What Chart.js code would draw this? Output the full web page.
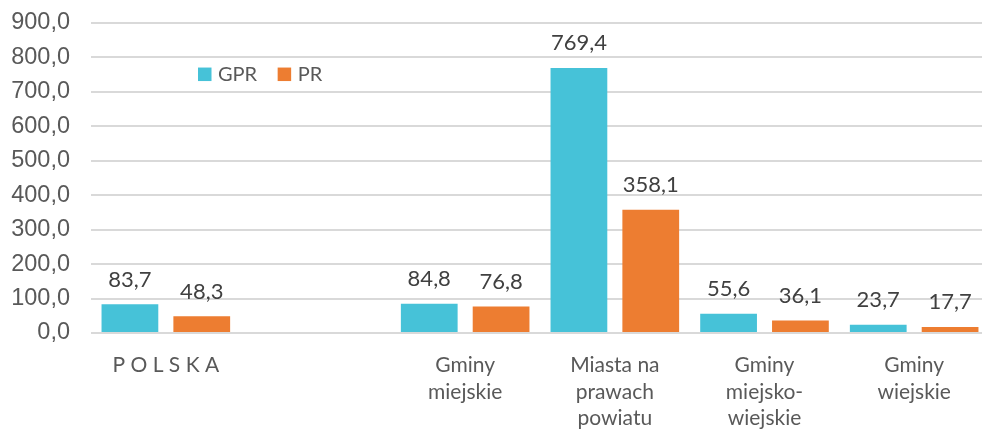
<!DOCTYPE html>
<html><head><meta charset="utf-8">
<script src="https://cdn.jsdelivr.net/npm/chart.js@4.4.1/dist/chart.umd.min.js"></script>
<style>
html,body{margin:0;padding:0;overflow:hidden;background:#fff;width:982px;height:431px}
#wrap{position:absolute;left:0;top:0;width:990px;height:431px}
</style></head>
<body><div id="wrap"><canvas id="c"></canvas></div>
<script>
// ---- data ----
const categories = [['P O L S K A'], [''], ['Gminy', 'miejskie'], ['Miasta na', 'prawach', 'powiatu'], ['Gminy', 'miejsko-', 'wiejskie'], ['Gminy', 'wiejskie']];
const seriesNames = ['GPR', 'PR'];
const gprValues = [83.7, null, 84.8, 769.4, 55.6, 23.7];
const prValues = [48.3, null, 76.8, 358.1, 36.1, 17.7];
const yMin = 0, yMax = 900, yStep = 100;
const seriesColors = ['#46C2D8', '#ED7D31'];

const fmt = v => v.toFixed(1).replace('.', ',');

const valueLabels = {
  id: 'valueLabels',
  afterDatasetsDraw(chart) {
    const ctx = chart.ctx;
    ctx.save();
    ctx.font = '22px Lato';
    ctx.fillStyle = '#404040';
    ctx.textAlign = 'center';
    ctx.textBaseline = 'alphabetic';
    chart.data.datasets.forEach((ds, i) => {
      chart.getDatasetMeta(i).data.forEach((el, j) => {
        const v = ds.data[j];
        if (v == null) return;
        ctx.fillText(fmt(v), el.x, el.y - 17.5);
      });
    });
    ctx.restore();
  }
};

const innerLegend = {
  id: 'innerLegend',
  afterDraw(chart) {
    const ctx = chart.ctx;
    const a = chart.chartArea;
    let x = a.left + 107;
    const yc = a.top + 51.3;
    const box = 13.5;
    ctx.save();
    ctx.font = '20px Lato';
    ctx.textBaseline = 'middle';
    ctx.textAlign = 'left';
    chart.data.datasets.forEach((ds) => {
      ctx.fillStyle = ds.backgroundColor;
      ctx.fillRect(x, yc - box / 2, box, box);
      ctx.fillStyle = '#595959';
      ctx.fillText(ds.label, x + box + 6.5, yc + 0.5);
      x += box + 6.5 + ctx.measureText(ds.label).width + 20.5;
    });
    ctx.restore();
  }
};

function draw() {
  new Chart(document.getElementById('c'), {
    type: 'bar',
    data: {
      labels: categories,
      datasets: [
        { label: seriesNames[0], data: gprValues, backgroundColor: seriesColors[0], categoryPercentage: 0.96, barPercentage: 0.79 },
        { label: seriesNames[1], data: prValues, backgroundColor: seriesColors[1], categoryPercentage: 0.96, barPercentage: 0.79 }
      ]
    },
    options: {
      responsive: true,
      maintainAspectRatio: false,
      animation: false,
      layout: { padding: { top: 23, right: 1, left: 0, bottom: 0 } },
      plugins: { legend: { display: false }, tooltip: { enabled: false } },
      scales: {
        x: {
          grid: { display: false, drawTicks: false },
          border: { display: false },
          ticks: { padding: 19, color: '#595959', font: { family: 'Lato', size: 21, lineHeight: 1.27 }, maxRotation: 0, minRotation: 0, autoSkip: false },
          afterFit(s) { s.height = 98; s.paddingLeft = 0; s.paddingRight = 0; }
        },
        y: {
          min: yMin, max: yMax,
          ticks: { stepSize: yStep, padding: 21, color: '#595959', font: { family: 'Liberation Sans', size: 23.5 }, callback: v => fmt(v) },
          grid: { color: '#d9d9d9', lineWidth: 2, drawTicks: false },
          border: { display: false },
          afterFit(s) { s.width = 91; s.paddingTop = 0; s.paddingBottom = 0; }
        }
      }
    },
    plugins: [valueLabels, innerLegend]
  });
}
Promise.all([
  document.fonts.load('22px Lato'),
  document.fonts.load('23.5px "Liberation Sans"')
]).then(draw, draw);
</script>
</body></html>
